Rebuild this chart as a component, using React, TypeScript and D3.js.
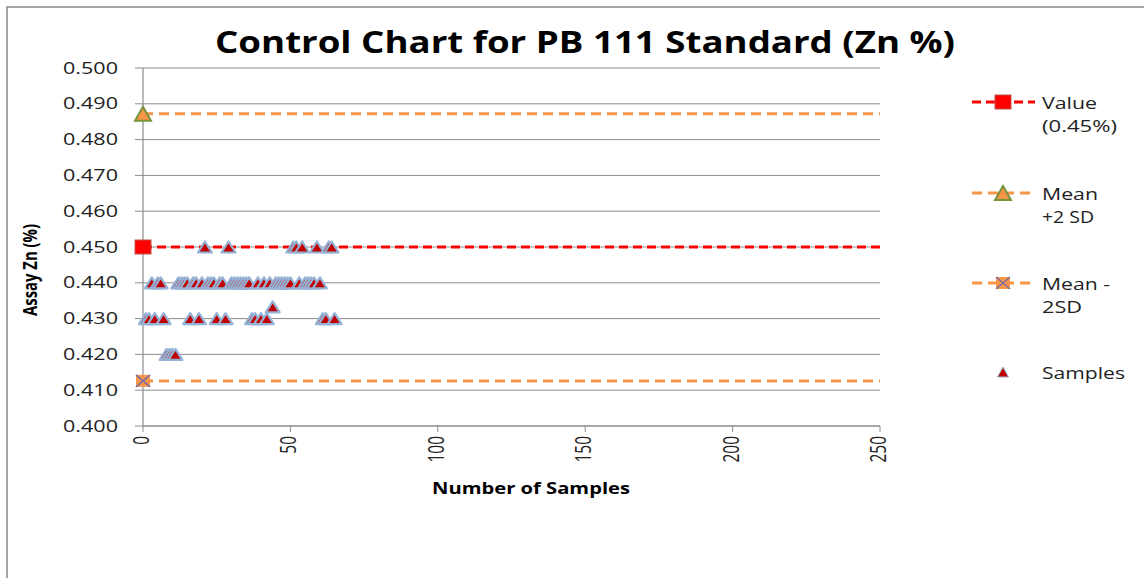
import React from "react";
import * as d3 from "d3";

// sample number vs assay result
const sampleNo = [
  1, 2, 3, 4, 5, 6, 7, 8, 9, 10, 11, 12, 13, 14, 15, 16, 17, 18, 19, 20, 21, 22,
  23, 24, 25, 26, 27, 28, 29, 30, 31, 32, 33, 34, 35, 36, 37, 38, 39, 40, 41, 42,
  43, 44, 45, 46, 47, 48, 49, 50, 51, 52, 53, 54, 55, 56, 57, 58, 59, 60, 61, 62,
  63, 64, 65,
];
const sampleZn = [
  0.43, 0.43, 0.44, 0.43, 0.44, 0.44, 0.43, 0.42, 0.42, 0.42, 0.42, 0.44, 0.44,
  0.44, 0.44, 0.43, 0.44, 0.44, 0.43, 0.44, 0.45, 0.44, 0.44, 0.44, 0.43, 0.44,
  0.44, 0.43, 0.45, 0.44, 0.44, 0.44, 0.44, 0.44, 0.44, 0.44, 0.43, 0.43, 0.44,
  0.43, 0.44, 0.43, 0.44, 0.4333, 0.44, 0.44, 0.44, 0.44, 0.44, 0.44, 0.45, 0.45,
  0.44, 0.45, 0.44, 0.44, 0.44, 0.44, 0.45, 0.44, 0.43, 0.43, 0.45, 0.45, 0.43,
];

const lineX = [0, 250];
const standardValue = 0.45;
const meanPlus2SD = 0.4872;
const meanMinus2SD = 0.4126;

const xTicks = [0, 50, 100, 150, 200, 250];
const yTicks = [0.4, 0.41, 0.42, 0.43, 0.44, 0.45, 0.46, 0.47, 0.48, 0.49, 0.5];

const legendLabels = [
  ["Value", "(0.45%)"],
  ["Mean", "+2 SD"],
  ["Mean -", "2SD"],
  ["Samples"],
];

const FONT = "'Open Sans', 'DejaVu Sans', sans-serif";
const GRID = "#8c8c8c";
const ORANGE = "#F79646";

const tri = (w: number, h: number) =>
  `M0,${-h / 2}L${w / 2},${h / 2}L${-w / 2},${h / 2}Z`;

const Marker = ({ kind, x, y, small }: { kind: string; x: number; y: number; small?: boolean }) => {
  if (kind === "square")
    return (
      <rect x={x - 8} y={y - 7} width={16} height={14} fill="#FF0000" stroke="#C0504D" strokeWidth={1} />
    );
  if (kind === "triangle")
    return (
      <path d={tri(16, 14)} transform={`translate(${x},${y})`} fill={ORANGE} stroke="#77933C" strokeWidth={2} />
    );
  if (kind === "x")
    return (
      <g transform={`translate(${x},${y})`}>
        <rect x={-7} y={-6} width={14} height={12} fill={ORANGE} />
        <path d="M-7,-6L7,6M-7,6L7,-6" stroke="#7F6BA8" strokeWidth={1.5} />
      </g>
    );
  if (small)
    return (
      <path d={tri(11, 10)} transform={`translate(${x},${y})`} fill="#C00000" stroke="#95B3D7" strokeWidth={1} />
    );
  return (
    <path d={tri(14, 11)} transform={`translate(${x},${y})`} fill="#C00000" stroke="#95B3D7" strokeWidth={2.2} strokeLinejoin="round" />
  );
};

const App = () => {
  const width = 1144;
  const height = 578;
  const x = d3.scaleLinear().domain([0, 250]).range([143, 880]);
  const y = d3.scaleLinear().domain([0.4, 0.5]).range([426, 68]);
  const line = d3
    .line<number>()
    .x((d) => x(d))
    .y(0);

  const refLines = [
    { v: standardValue, color: "#FF0000", dash: "9,5", kind: "square" },
    { v: meanPlus2SD, color: ORANGE, dash: "10,6", kind: "triangle" },
    { v: meanMinus2SD, color: ORANGE, dash: "10,6", kind: "x" },
  ];
  const legendY = [102, 193, 283, 372];
  const legendWidths = [
    [55, 75],
    [56, 52],
    [68, 40],
    [83],
  ];

  return (
    <svg width={width} height={height} style={{ position: "absolute", left: 0, top: 0, background: "#fff" }}>
      <rect x={7} y={7} width={1160} height={600} fill="#fff" stroke="#888" strokeWidth={1.5} />

      {/* title */}
      <text x={215} y={53} fontFamily={FONT} fontWeight="bold" fontSize={31} textLength={740} lengthAdjust="spacingAndGlyphs">
        Control Chart for PB 111 Standard (Zn %)
      </text>

      {/* grid + y axis */}
      {yTicks.map((t) => (
        <g key={t}>
          <line x1={135} x2={880} y1={y(t)} y2={y(t)} stroke={GRID} strokeWidth={1} />
          <text x={118} y={y(t) + 5.5} textAnchor="end" fontFamily={FONT} fontSize={15.5} fill="#222" textLength={55} lengthAdjust="spacingAndGlyphs">
            {d3.format(".3f")(t)}
          </text>
        </g>
      ))}
      <line x1={x(0)} x2={x(0)} y1={y(0.5)} y2={y(0.4)} stroke={GRID} strokeWidth={1.2} />
      <line x1={x(0)} x2={x(250)} y1={y(0.4)} y2={y(0.4)} stroke={GRID} strokeWidth={1.2} />
      {xTicks.map((t) => (
        <g key={t}>
          <line x1={x(t)} x2={x(t)} y1={y(0.4)} y2={y(0.4) + 6} stroke={GRID} strokeWidth={1} />
          <text
            transform={`translate(${x(t) + 6},${436}) scale(1.35,1) rotate(-90)`}
            textAnchor="end"
            fontFamily={FONT}
            fontSize={15.5}
            fill="#222"
          >
            {t}
          </text>
        </g>
      ))}

      {/* axis titles */}
      <text transform={`translate(37,270) scale(1.2,1) rotate(-90)`} textAnchor="middle" fontFamily={FONT} fontWeight="bold" fontSize={16} textLength={92} lengthAdjust="spacingAndGlyphs">
        Assay Zn (%)
      </text>
      <text x={432} y={494} fontFamily={FONT} fontWeight="bold" fontSize={16} textLength={198} lengthAdjust="spacingAndGlyphs">
        Number of Samples
      </text>

      {/* reference lines */}
      {refLines.map((r) => (
        <g key={r.kind} transform={`translate(0,${y(r.v)})`}>
          <path d={line(lineX) || ""} stroke={r.color} strokeWidth={3} strokeDasharray={r.dash} fill="none" />
          <Marker kind={r.kind} x={x(lineX[0])} y={0} />
        </g>
      ))}

      {/* samples */}
      {sampleNo.map((n, i) => (
        <Marker key={i} kind="sample" x={x(n)} y={y(sampleZn[i])} />
      ))}

      {/* legend */}
      {legendLabels.map((lab, i) => {
        const ly = legendY[i];
        const r = refLines[i];
        return (
          <g key={i}>
            {r && <line x1={972} x2={1035} y1={ly} y2={ly} stroke={r.color} strokeWidth={3} strokeDasharray={r.dash} />}
            <Marker kind={r ? r.kind : "sample"} x={1003} y={ly} small />
            {lab.map((s, j) => (
              <text key={s} x={1042} y={ly + 6.5 + j * 23} fontFamily={FONT} fontSize={16} fill="#222" textLength={legendWidths[i][j]} lengthAdjust="spacingAndGlyphs">
                {s}
              </text>
            ))}
          </g>
        );
      })}
    </svg>
  );
};

export default App;
